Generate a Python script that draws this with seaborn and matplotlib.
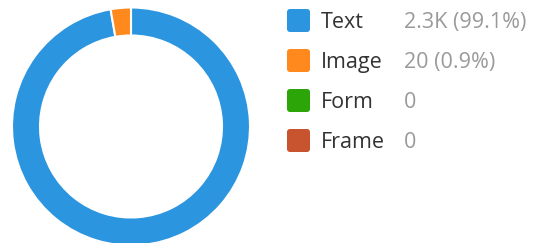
import matplotlib
matplotlib.use("Agg")
import matplotlib.pyplot as plt
from matplotlib.patches import FancyBboxPatch
import seaborn as sns
import numpy as np

categories = ["Text", "Image", "Form", "Frame"]
values = [2260, 20, 0, 0]
value_labels = ["2.3K (99.1%)", "20 (0.9%)", "0", "0"]
colors = ["#2C95E0", "#FF891C", "#2BA508", "#C7532F"]

sns.set_theme(style="white")
plt.rcParams["font.family"] = ["Open Sans", "DejaVu Sans"]

W, H = 534, 243
fig = plt.figure(figsize=(W / 100, H / 100), dpi=100)
ax = fig.add_axes([0, 0, 1, 1])

# display sizes with a minimum visible slice, as in the source chart
total = sum(values)
min_frac = 0.028
fr = np.array([v / total for v in values])
nz = fr > 0
disp = np.where(nz, np.maximum(fr, min_frac), 0)
disp[nz] = disp[nz] / disp[nz].sum()

cx, cy, R, r = 131, 126.5, 119, 91
# y axis is inverted (pixel coords): startangle -90 = visual top, ccw in data = cw on screen
ax.pie(disp[nz], colors=[c for c, k in zip(colors, nz) if k],
       startangle=-90, counterclock=True, center=(cx, cy), radius=R,
       wedgeprops=dict(width=R - r, edgecolor="white", linewidth=1.5),
       frame=True)
ax.set_xlim(0, W)
ax.set_ylim(H, 0)
ax.set_aspect("equal")
ax.axis("off")

sq_x, sq = 287, 23
row0, step = 20.5, 40
for i, (cat, lab, col) in enumerate(zip(categories, value_labels, colors)):
    yc = row0 + i * step
    ax.add_patch(FancyBboxPatch((sq_x, yc - sq / 2), sq, sq,
                                boxstyle="round,pad=0,rounding_size=3",
                                fc=col, ec="none"))
    ax.text(321, yc + 7.8, cat, fontsize=15.5, color="#333333", va="baseline", ha="left")
    ax.text(404, yc + 7.8, lab, fontsize=15.5, color="#9a9a9a", va="baseline", ha="left")

fig.savefig("out.png", dpi=100)
